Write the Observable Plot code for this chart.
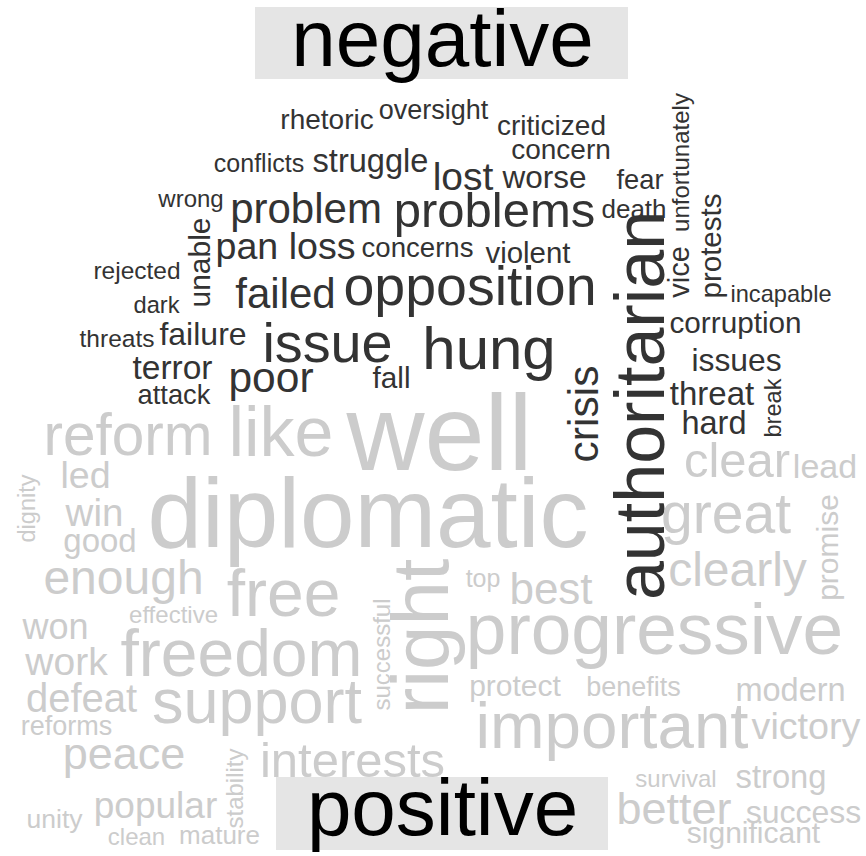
<!DOCTYPE html>
<html>
<head>
<meta charset="utf-8">
<script src="https://cdn.jsdelivr.net/npm/d3@7"></script>
<script src="https://cdn.jsdelivr.net/npm/@observablehq/plot@0.6"></script>
<style>
  html, body { margin: 0; padding: 0; background: #ffffff; }
  #chart { width: 866px; height: 856px; }
</style>
</head>
<body>
<div id="chart"></div>
<script>
// ---- Comparison cloud data (layout coordinates of the cloud, weight, orientation) ----
const negWords = ["rhetoric","oversight","criticized","concern","unfortunately","conflicts","struggle","lost","worse","fear","wrong","problem","problems","death","protests","unable","pan loss","concerns","violent","vice","rejected","failed","opposition","authoritarian","incapable","dark","threats","failure","issue","hung","corruption","terror","poor","fall","crisis","issues","threat","break","attack","hard"];
const negWeight = [28,27,28,28,24,25,32.6,39,31.5,27.3,24,42,49,26,29.5,30,37.6,27.6,29.4,29,24.5,42,55.5,70,23.6,23.7,24.5,32,55.8,60,29.7,33.5,42.5,29.7,42.5,31.8,33,23.6,27.3,32.5];
const negX = [326.5,433,551,560.5,681,258.5,370,462.5,544,639.5,190.5,305.5,494,633.5,711.5,200,285,417,527.5,679,136.5,285,469.5,641,780.5,156,116.5,202.5,327,488.5,735,172,270.5,391,583.5,736,711.5,773,173.5,713.5];
const negY = [120,110,126,150,162,163,160.6,177.5,177,180,199,209.5,211,208.7,245.5,262,246,248,252.6,271.5,271,293.6,287,405,294,305,339,334.7,344,349,322.5,368,378,377.5,413.5,360,394,407.5,395,422.6];
const negRot = [0,0,0,0,-90,0,0,0,0,0,0,0,0,0,-90,-90,0,0,0,-90,0,0,0,-90,0,0,0,0,0,0,0,0,0,0,-90,0,0,-90,0,0];

const posWords = ["reform","like","well","clear","lead","led","dignity","diplomatic","win","great","promise","good","enough","free","right","clearly","top","best","effective","successful","won","progressive","work","freedom","protect","benefits","modern","defeat","support","reforms","important","victory","peace","stability","interests","survival","strong","popular","better","success","unity","clean","mature","significant"];
const posWeight = [58.5,70,108,49,34,37.6,23.5,98,38.5,57,30,33,48,66,80,48,25,44,24,24,36,73,39,66,30,27,32.5,40,63,27,65.5,37.7,45,24,49,24,32.7,37,45,32,26.5,24,26,30];
const posX = [127.5,280.5,439,736.5,824.5,85,27,367.5,94,725.5,828,99.5,123,283,422,737,482.5,550.5,173,382,55,654,66,241,514.5,633,790,81,256.5,66,611.5,805.5,123.5,235,352,675.5,780.5,155,673.5,803,54,136,219,753];
const posY = [436,433,435,461,467,475,508,515,513,514,547,541,578,594,636,570,578,589,615,654,626.5,630,662,654,686,687,690,699,702,726,727,726,754,788,761,779,777.5,806,808.6,812,819.5,837,835,833];
const posRot = [0,0,0,0,0,0,-90,0,0,0,-90,0,0,0,-90,0,0,0,0,-90,0,0,0,0,0,0,0,0,0,0,0,0,0,-90,0,0,0,0,0,0,0,0,0,0];

const groups = ["negative","positive"];
const groupColors = ["#333333","#cccccc"];
const titleX = [442, 442];
const titleY = [39.5, 809];
const titleSize = [80, 80];
const boxX1 = [255, 276];
const boxX2 = [628, 608];
const boxY1 = [7, 777];
const boxY2 = [79, 850];

// ---- build tables ----
const words = [
  ...negWords.map((w, i) => ({word: w, group: "negative", weight: negWeight[i], x: negX[i], y: negY[i], rot: negRot[i]})),
  ...posWords.map((w, i) => ({word: w, group: "positive", weight: posWeight[i], x: posX[i], y: posY[i], rot: posRot[i]}))
];
const titles = groups.map((g, i) => ({label: g, x: titleX[i], y: titleY[i], size: titleSize[i], x1: boxX1[i], x2: boxX2[i], y1: boxY1[i], y2: boxY2[i]}));

const sizeScale = d3.scaleLinear().domain([0, 100]).range([0, 100]);

const chart = Plot.plot({
  width: 866,
  height: 856,
  margin: 0,
  x: {domain: [0, 866], axis: null},
  y: {domain: [0, 856], reverse: true, axis: null},
  color: {domain: groups, range: groupColors},
  style: {background: "#ffffff", fontFamily: "'Liberation Sans', Arial, sans-serif"},
  marks: [
    Plot.rect(titles, {x1: "x1", x2: "x2", y1: "y1", y2: "y2", fill: "#e5e5e5"}),
    Plot.text(words, {
      x: "x", y: "y", text: "word",
      fontSize: d => sizeScale(d.weight),
      rotate: "rot",
      fill: "group",
      textAnchor: "middle",
      lineAnchor: "middle",
      fontFamily: "'Liberation Sans', Arial, sans-serif"
    }),
    Plot.text(titles, {
      x: "x", y: "y", text: "label",
      fontSize: d => sizeScale(d.size),
      fill: "#000000",
      textAnchor: "middle",
      lineAnchor: "middle",
      fontFamily: "'Liberation Sans', Arial, sans-serif"
    })
  ]
});
document.getElementById("chart").appendChild(chart);
</script>
</body>
</html>
